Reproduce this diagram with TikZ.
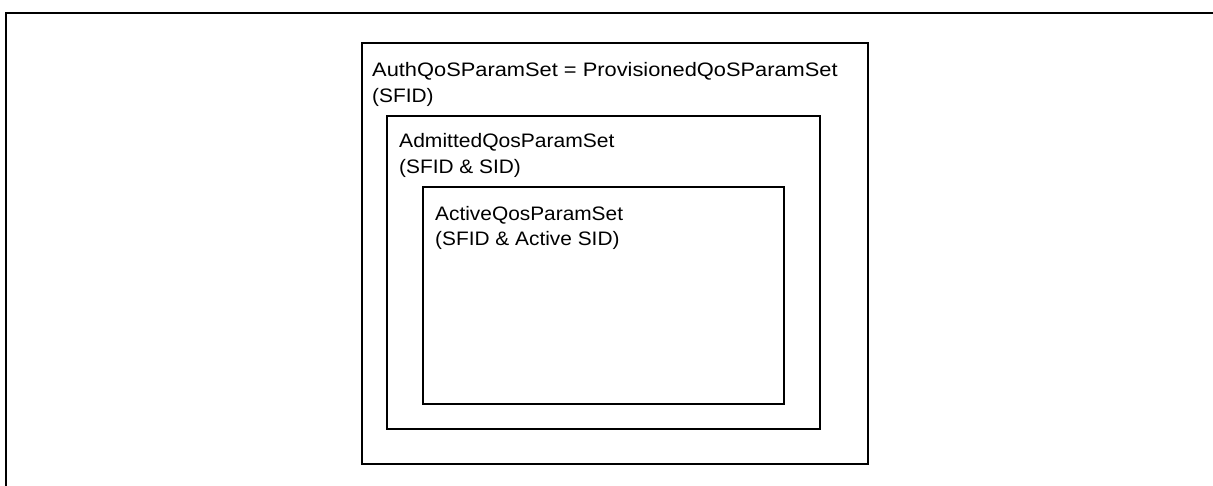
\documentclass[tikz,border=0pt]{standalone}
\usepackage{fontspec}
\setmainfont{Liberation Sans}
\begin{document}
\begin{tikzpicture}[x=1pt,y=-1pt,
  setbox/.style={draw=black, line width=1.4pt, fill=none, inner sep=0pt, outer sep=0pt, anchor=north west},
  lbl/.style={anchor=base west, inner sep=0pt, font=\fontsize{19.5}{26}\selectfont},
  frame/.style={line width=2.4pt, line cap=rect}]
\useasboundingbox (0,0) rectangle (1213,485);
% outer frame (top and left only)
\coordinate (ftl) at (6,13);
\coordinate (ftr) at (1213,13);
\coordinate (fbl) at (6,485);
\draw[frame] (fbl) -- (ftl) -- (ftr);
% nested boxes
\node[setbox, minimum width=506pt, minimum height=421pt] (auth) at (362,43) {};
\node[setbox, minimum width=433pt, minimum height=313pt] (adm) at (387,116) {};
\node[setbox, minimum width=361pt, minimum height=217pt] (act) at (423,187) {};
% labels
\node[lbl] (authA) at (372,76) {\scalebox{1.12}[1]{AuthQoSParamSet = ProvisionedQoSParamSet}};
\node[lbl] (authB) at (372,102) {\scalebox{1.07}[1]{(SFID)}};
\node[lbl] (admA) at (399,147) {\scalebox{1.08}[1]{AdmittedQosParamSet}};
\node[lbl] (admB) at (399,173) {\scalebox{1.07}[1]{(SFID \& SID)}};
\node[lbl] (actA) at (435,220) {\scalebox{1.07}[1]{ActiveQosParamSet}};
\node[lbl] (actB) at (435,245) {\scalebox{1.07}[1]{(SFID \& Active SID)}};
\end{tikzpicture}
\end{document}
